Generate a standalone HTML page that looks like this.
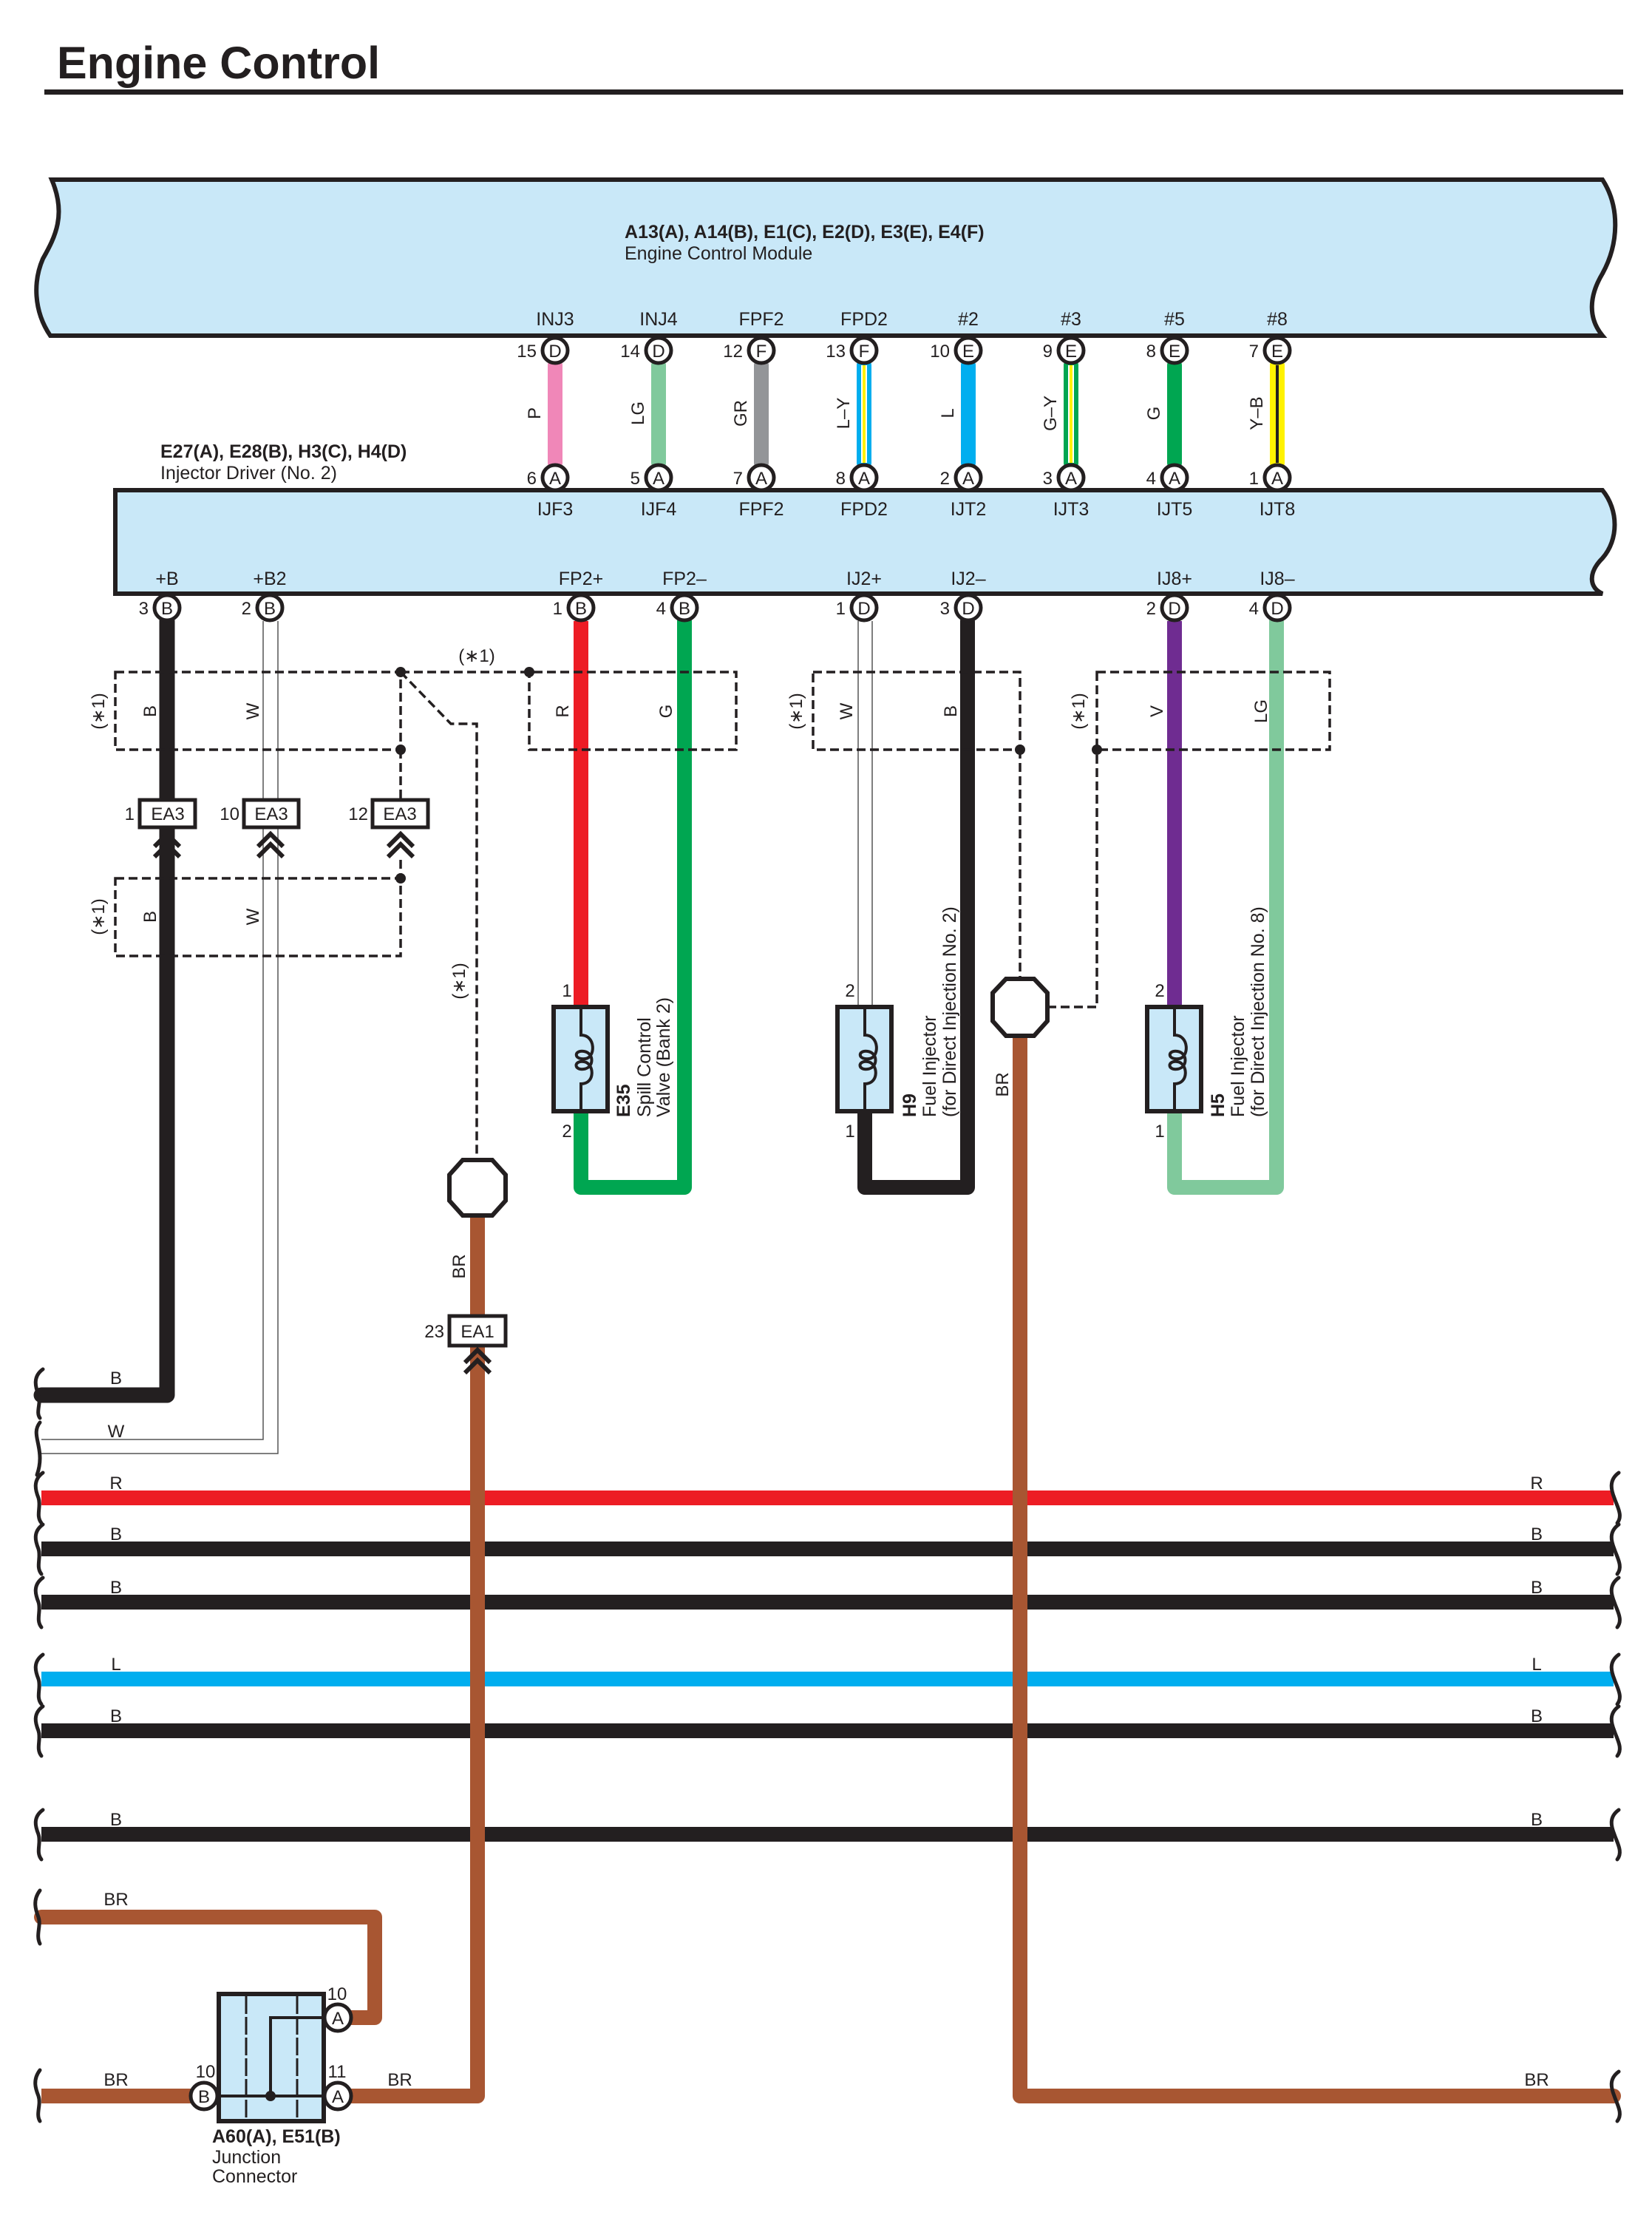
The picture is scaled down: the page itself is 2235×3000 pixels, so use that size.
<!DOCTYPE html>
<html><head><meta charset="utf-8"><style>
html,body{margin:0;padding:0;background:#fff}
svg{display:block}
text{font-family:"Liberation Sans",Arial,sans-serif;fill:#231f20}
.t{font-size:25px}
.s{font-size:24px}
.b{font-weight:bold}
.w{fill:none;stroke-linecap:round;stroke-linejoin:round}
.d{fill:none;stroke:#231f20;stroke-width:3.5;stroke-dasharray:12 6}
.pin{fill:#fff;stroke:#231f20;stroke-width:5}
.brk{fill:none;stroke:#231f20;stroke-width:5;stroke-linecap:round}
</style></head><body>
<svg width="2235" height="3000" viewBox="0 0 2235 3000" xmlns="http://www.w3.org/2000/svg">
<text x="77" y="106" class="b" style="font-size:61px">Engine Control</text>
<rect x="60" y="121" width="2136" height="7" fill="#231f20"/>

<path d="M70,243 L2168,243 C2192,280 2190,330 2168,370 C2150,400 2148,430 2168,454 L68,454 C45,420 45,380 58,350 C75,320 90,290 70,243 Z" fill="#c9e8f8" stroke="#231f20" stroke-width="6"/>
<text x="845" y="322" class="t b">A13(A), A14(B), E1(C), E2(D), E3(E), E4(F)</text>
<text x="845" y="351" class="t">Engine Control Module</text>

<path d="M156,663 L2168,663 C2190,690 2190,730 2168,755 C2148,775 2150,795 2168,803 L156,803 Z" fill="#c9e8f8" stroke="#231f20" stroke-width="6"/>
<text x="217" y="619" class="t b">E27(A), E28(B), H3(C), H4(D)</text>
<text x="217" y="648" class="t">Injector Driver (No. 2)</text>

<g class="w" stroke-width="20">
<line x1="751" y1="494" x2="751" y2="626" stroke="#f087b8"/>
<line x1="891" y1="494" x2="891" y2="626" stroke="#80c99c"/>
<line x1="1030" y1="494" x2="1030" y2="626" stroke="#939598"/>
<line x1="1169" y1="494" x2="1169" y2="626" stroke="#00aeef"/>
<line x1="1310" y1="494" x2="1310" y2="626" stroke="#00aeef"/>
<line x1="1449" y1="494" x2="1449" y2="626" stroke="#00a651"/>
<line x1="1589" y1="494" x2="1589" y2="626" stroke="#00a651"/>
<line x1="1728" y1="494" x2="1728" y2="626" stroke="#fff200"/>
</g>
<g stroke-width="8">
<line x1="1169" y1="494" x2="1169" y2="626" stroke="#fff"/>
<line x1="1449" y1="494" x2="1449" y2="626" stroke="#fff"/>
</g>
<g stroke-width="4">
<line x1="1169" y1="494" x2="1169" y2="626" stroke="#fff200"/>
<line x1="1449" y1="494" x2="1449" y2="626" stroke="#fff200"/>
<line x1="1728" y1="494" x2="1728" y2="626" stroke="#231f20"/>
</g>

<g class="t" text-anchor="middle">
<text x="751" y="440">INJ3</text><text x="891" y="440">INJ4</text><text x="1030" y="440">FPF2</text><text x="1169" y="440">FPD2</text>
<text x="1310" y="440">#2</text><text x="1449" y="440">#3</text><text x="1589" y="440">#5</text><text x="1728" y="440">#8</text>
<text x="751" y="697">IJF3</text><text x="891" y="697">IJF4</text><text x="1030" y="697">FPF2</text><text x="1169" y="697">FPD2</text>
<text x="1310" y="697">IJT2</text><text x="1449" y="697">IJT3</text><text x="1589" y="697">IJT5</text><text x="1728" y="697">IJT8</text>
<text x="226" y="791">+B</text><text x="365" y="791">+B2</text><text x="786" y="791">FP2+</text><text x="926" y="791">FP2–</text>
<text x="1169" y="791">IJ2+</text><text x="1310" y="791">IJ2–</text><text x="1589" y="791">IJ8+</text><text x="1728" y="791">IJ8–</text>
</g>
<g class="s" text-anchor="middle">
<text transform="translate(731,559) rotate(-90)">P</text>
<text transform="translate(871,559) rotate(-90)">LG</text>
<text transform="translate(1010,559) rotate(-90)">GR</text>
<text transform="translate(1149,559) rotate(-90)">L–Y</text>
<text transform="translate(1290,559) rotate(-90)">L</text>
<text transform="translate(1429,559) rotate(-90)">G–Y</text>
<text transform="translate(1569,559) rotate(-90)">G</text>
<text transform="translate(1708,559) rotate(-90)">Y–B</text>
</g>

<path d="M226,840 V1887 H56" class="w" stroke="#231f20" stroke-width="21"/>
<path d="M356,840 V1947 H56" fill="none" stroke="#555" stroke-width="1.5"/>
<path d="M376,840 V1966 H56" fill="none" stroke="#555" stroke-width="1.5"/>
<line x1="786" y1="840" x2="786" y2="1362" stroke="#ed1c24" stroke-width="20"/>
<path d="M926,840 V1606 H786 V1503" class="w" stroke="#00a651" stroke-width="20"/>
<line x1="1161" y1="840" x2="1161" y2="1362" stroke="#555" stroke-width="1.5"/>
<line x1="1180" y1="840" x2="1180" y2="1362" stroke="#555" stroke-width="1.5"/>
<path d="M1309,840 V1606 H1170 V1503" class="w" stroke="#231f20" stroke-width="20"/>
<line x1="1589" y1="840" x2="1589" y2="1362" stroke="#6f2c91" stroke-width="20"/>
<path d="M1727,840 V1606 H1589 V1503" class="w" stroke="#80c99c" stroke-width="20"/>

<g stroke-width="20">
<line x1="56" y1="2026" x2="2183" y2="2026" stroke="#ed1c24"/>
<line x1="56" y1="2095" x2="2183" y2="2095" stroke="#231f20"/>
<line x1="56" y1="2167" x2="2183" y2="2167" stroke="#231f20"/>
<line x1="56" y1="2271" x2="2183" y2="2271" stroke="#00aeef"/>
<line x1="56" y1="2341" x2="2183" y2="2341" stroke="#231f20"/>
<line x1="56" y1="2481" x2="2183" y2="2481" stroke="#231f20"/>
</g>
<path d="M646,1644 V2835 H457" class="w" stroke="#a85632" stroke-width="20"/>
<path d="M1380,1401 V2835 H2183" class="w" stroke="#a85632" stroke-width="20"/>
<path d="M56,2593 H507 V2729 H457" class="w" stroke="#a85632" stroke-width="20"/>
<line x1="56" y1="2835" x2="276" y2="2835" stroke="#a85632" stroke-width="20"/>

<g class="s" text-anchor="middle">
<text x="157" y="1872">B</text><text x="157" y="1944">W</text>
<text x="157" y="2014">R</text><text x="157" y="2083">B</text><text x="157" y="2155">B</text>
<text x="157" y="2259">L</text><text x="157" y="2329">B</text><text x="157" y="2469">B</text>
<text x="157" y="2577">BR</text><text x="157" y="2821">BR</text><text x="541" y="2821">BR</text>
<text x="2079" y="2014">R</text><text x="2079" y="2083">B</text><text x="2079" y="2155">B</text>
<text x="2079" y="2259">L</text><text x="2079" y="2329">B</text><text x="2079" y="2469">B</text>
<text x="2079" y="2821">BR</text>
</g>

<g class="brk">
<path d="M58,1852 C44,1862 48,1876 52,1887 C56,1898 48,1910 54,1918"/>
<path d="M54,1924 C46,1934 50,1944 52,1955 C54,1965 56,1978 50,1995"/>
<path d="M58,1992 C44,2002 48,2016 52,2026 C56,2038 48,2050 56,2060"/>
<path d="M58,2062 C44,2072 48,2085 52,2095 C56,2107 48,2119 56,2129"/>
<path d="M58,2134 C44,2144 48,2157 52,2167 C56,2179 48,2191 56,2201"/>
<path d="M58,2238 C44,2248 48,2261 52,2271 C56,2283 48,2295 56,2305"/>
<path d="M58,2308 C44,2318 48,2331 52,2341 C56,2353 48,2365 56,2375"/>
<path d="M58,2448 C44,2458 48,2471 52,2481 C56,2493 48,2505 56,2515"/>
<path d="M54,2557 C44,2570 48,2583 52,2593 C56,2605 48,2617 54,2629"/>
<path d="M54,2800 C44,2813 48,2825 52,2835 C56,2847 48,2859 54,2869"/>
</g>
<g class="brk">
<path d="M2190,1992 C2176,2002 2180,2016 2184,2026 C2188,2038 2196,2050 2188,2060"/>
<path d="M2190,2062 C2176,2072 2180,2085 2184,2095 C2188,2107 2196,2119 2188,2129"/>
<path d="M2190,2134 C2176,2144 2180,2157 2184,2167 C2188,2179 2196,2191 2188,2201"/>
<path d="M2190,2238 C2176,2248 2180,2261 2184,2271 C2188,2283 2196,2295 2188,2305"/>
<path d="M2190,2308 C2176,2318 2180,2331 2184,2341 C2188,2353 2196,2365 2188,2375"/>
<path d="M2190,2448 C2176,2458 2180,2471 2184,2481 C2188,2493 2196,2505 2188,2515"/>
<path d="M2190,2802 C2176,2812 2180,2825 2184,2835 C2188,2847 2196,2859 2188,2869"/>
</g>

<rect x="156" y="909" width="386" height="105" class="d"/>
<path d="M542,909 H996 V1014 H716 V909" class="d"/>
<path d="M542,909 L610,979 H645 V1569" class="d"/>
<path d="M542,1014 V1082" class="d"/>
<path d="M542,1163 V1188" class="d"/>
<rect x="156" y="1188" width="386" height="105" class="d"/>
<rect x="1100" y="909" width="280" height="105" class="d"/>
<path d="M1380,1014 V1324" class="d"/>
<rect x="1484" y="909" width="315" height="105" class="d"/>
<path d="M1417,1362 H1484 V1014" class="d"/>
<g fill="#231f20">
<circle cx="542" cy="909" r="7"/><circle cx="716" cy="909" r="7"/><circle cx="542" cy="1014" r="7"/>
<circle cx="542" cy="1188" r="7"/><circle cx="1380" cy="1014" r="7"/><circle cx="1484" cy="1014" r="7"/>
</g>
<text x="645" y="895" class="s" text-anchor="middle">(∗1)</text>
<g class="s" text-anchor="middle">
<text transform="translate(141,962) rotate(-90)">(∗1)</text>
<text transform="translate(141,1240) rotate(-90)">(∗1)</text>
<text transform="translate(629,1327) rotate(-90)">(∗1)</text>
<text transform="translate(1085,962) rotate(-90)">(∗1)</text>
<text transform="translate(1467,962) rotate(-90)">(∗1)</text>
<text transform="translate(211,962) rotate(-90)">B</text>
<text transform="translate(350,962) rotate(-90)">W</text>
<text transform="translate(211,1240) rotate(-90)">B</text>
<text transform="translate(350,1240) rotate(-90)">W</text>
<text transform="translate(769,962) rotate(-90)">R</text>
<text transform="translate(909,962) rotate(-90)">G</text>
<text transform="translate(1153,962) rotate(-90)">W</text>
<text transform="translate(1294,962) rotate(-90)">B</text>
<text transform="translate(1573,962) rotate(-90)">V</text>
<text transform="translate(1714,962) rotate(-90)">LG</text>
<text transform="translate(629,1713) rotate(-90)">BR</text>
<text transform="translate(1364,1467) rotate(-90)">BR</text>
</g>

<g>
<rect x="189" y="1082" width="75" height="37" fill="#fff" stroke="#231f20" stroke-width="5"/>
<rect x="330" y="1082" width="74" height="37" fill="#fff" stroke="#231f20" stroke-width="5"/>
<rect x="504" y="1082" width="75" height="37" fill="#fff" stroke="#231f20" stroke-width="5"/>
<rect x="608" y="1780" width="76" height="40" fill="#fff" stroke="#231f20" stroke-width="5"/>
</g>
<g class="s" text-anchor="middle"><text x="227" y="1109">EA3</text><text x="367" y="1109">EA3</text><text x="541" y="1109">EA3</text><text x="646" y="1809">EA1</text></g>
<g class="s" text-anchor="end"><text x="182" y="1109">1</text><text x="324" y="1109">10</text><text x="498" y="1109">12</text><text x="601" y="1809">23</text></g>
<g fill="none" stroke="#231f20" stroke-width="6">
<polyline points="209,1145 226,1128 243,1145"/><polyline points="209,1159 226,1142 243,1159"/>
<polyline points="349,1145 366,1128 383,1145"/><polyline points="349,1159 366,1142 383,1159"/>
<polyline points="525,1145 542,1128 559,1145"/><polyline points="525,1159 542,1142 559,1159"/>
<polyline points="629,1843 646,1826 663,1843"/><polyline points="629,1857 646,1840 663,1857"/>
</g>

<polygon points="626,1569 666,1569 684,1589 684,1624 666,1644 626,1644 608,1624 608,1589" fill="#fff" stroke="#231f20" stroke-width="6"/>
<polygon points="1361,1324 1399,1324 1417,1343 1417,1381 1399,1401 1361,1401 1343,1381 1343,1343" fill="#fff" stroke="#231f20" stroke-width="6"/>

<g id="sol">
<rect x="749" y="1362" width="73" height="141" fill="#c9e8f8" stroke="#231f20" stroke-width="6"/>
<path d="M786,1362 V1400 C806,1400 806,1430 792,1432 C776,1434 776,1420 790,1422 C804,1424 804,1444 790,1446 C776,1448 776,1434 790,1436 C804,1438 806,1466 786,1466 V1503" fill="none" stroke="#231f20" stroke-width="4"/>
</g>
<use href="#sol" transform="translate(384,0)"/>
<use href="#sol" transform="translate(803,0)"/>
<g class="t">
<text x="767" y="1348" class="s" text-anchor="middle">1</text><text x="767" y="1538" class="s" text-anchor="middle">2</text>
<text x="1150" y="1348" class="s" text-anchor="middle">2</text><text x="1150" y="1538" class="s" text-anchor="middle">1</text>
<text x="1569" y="1348" class="s" text-anchor="middle">2</text><text x="1569" y="1538" class="s" text-anchor="middle">1</text>
<text transform="translate(852,1511) rotate(-90)" class="b">E35</text>
<text transform="translate(880,1511) rotate(-90)">Spill Control</text>
<text transform="translate(906,1511) rotate(-90)">Valve (Bank 2)</text>
<text transform="translate(1239,1511) rotate(-90)" class="b">H9</text>
<text transform="translate(1266,1511) rotate(-90)">Fuel Injector</text>
<text transform="translate(1293,1511) rotate(-90)">(for Direct Injection No. 2)</text>
<text transform="translate(1656,1511) rotate(-90)" class="b">H5</text>
<text transform="translate(1683,1511) rotate(-90)">Fuel Injector</text>
<text transform="translate(1710,1511) rotate(-90)">(for Direct Injection No. 8)</text>
</g>

<rect x="296" y="2697" width="142" height="172" fill="#c9e8f8" stroke="#231f20" stroke-width="6"/>
<line x1="333" y1="2700" x2="333" y2="2866" stroke="#231f20" stroke-width="3" stroke-dasharray="24 4"/>
<line x1="402" y1="2700" x2="402" y2="2866" stroke="#231f20" stroke-width="3" stroke-dasharray="24 4"/>
<path d="M276,2835 H457 M366,2835 V2729 H457" fill="none" stroke="#231f20" stroke-width="4"/>
<circle cx="366" cy="2835" r="7" fill="#231f20"/>
<text x="287" y="2898" class="t b">A60(A), E51(B)</text>
<text x="287" y="2926" class="t">Junction</text>
<text x="287" y="2952" class="t">Connector</text>

<g class="pin">
<circle cx="751" cy="474" r="17"/><circle cx="891" cy="474" r="17"/><circle cx="1030" cy="474" r="17"/><circle cx="1169" cy="474" r="17"/>
<circle cx="1310" cy="474" r="17"/><circle cx="1449" cy="474" r="17"/><circle cx="1589" cy="474" r="17"/><circle cx="1728" cy="474" r="17"/>
<circle cx="751" cy="646" r="17"/><circle cx="891" cy="646" r="17"/><circle cx="1030" cy="646" r="17"/><circle cx="1169" cy="646" r="17"/>
<circle cx="1310" cy="646" r="17"/><circle cx="1449" cy="646" r="17"/><circle cx="1589" cy="646" r="17"/><circle cx="1728" cy="646" r="17"/>
<circle cx="226" cy="822" r="17"/><circle cx="365" cy="822" r="17"/><circle cx="786" cy="822" r="17"/><circle cx="926" cy="822" r="17"/>
<circle cx="1169" cy="822" r="17"/><circle cx="1310" cy="822" r="17"/><circle cx="1589" cy="822" r="17"/><circle cx="1728" cy="822" r="17"/>
<circle cx="457" cy="2729" r="18"/><circle cx="457" cy="2835" r="18"/><circle cx="276" cy="2835" r="18"/>
</g>
<g class="s" text-anchor="middle">
<text x="751" y="483">D</text><text x="891" y="483">D</text><text x="1030" y="483">F</text><text x="1169" y="483">F</text>
<text x="1310" y="483">E</text><text x="1449" y="483">E</text><text x="1589" y="483">E</text><text x="1728" y="483">E</text>
<text x="751" y="655">A</text><text x="891" y="655">A</text><text x="1030" y="655">A</text><text x="1169" y="655">A</text>
<text x="1310" y="655">A</text><text x="1449" y="655">A</text><text x="1589" y="655">A</text><text x="1728" y="655">A</text>
<text x="226" y="831">B</text><text x="365" y="831">B</text><text x="786" y="831">B</text><text x="926" y="831">B</text>
<text x="1169" y="831">D</text><text x="1310" y="831">D</text><text x="1589" y="831">D</text><text x="1728" y="831">D</text>
<text x="457" y="2738">A</text><text x="457" y="2844">A</text><text x="276" y="2844">B</text>
</g>
<g class="s" text-anchor="end">
<text x="726" y="483">15</text><text x="866" y="483">14</text><text x="1005" y="483">12</text><text x="1144" y="483">13</text>
<text x="1285" y="483">10</text><text x="1424" y="483">9</text><text x="1564" y="483">8</text><text x="1703" y="483">7</text>
<text x="726" y="655">6</text><text x="866" y="655">5</text><text x="1005" y="655">7</text><text x="1144" y="655">8</text>
<text x="1285" y="655">2</text><text x="1424" y="655">3</text><text x="1564" y="655">4</text><text x="1703" y="655">1</text>
<text x="201" y="831">3</text><text x="340" y="831">2</text><text x="761" y="831">1</text><text x="901" y="831">4</text>
<text x="1144" y="831">1</text><text x="1285" y="831">3</text><text x="1564" y="831">2</text><text x="1703" y="831">4</text>
</g>
<g class="s" text-anchor="middle">
<text x="456" y="2705">10</text><text x="456" y="2810">11</text><text x="278" y="2810">10</text>
</g>
</svg>
</body></html>
